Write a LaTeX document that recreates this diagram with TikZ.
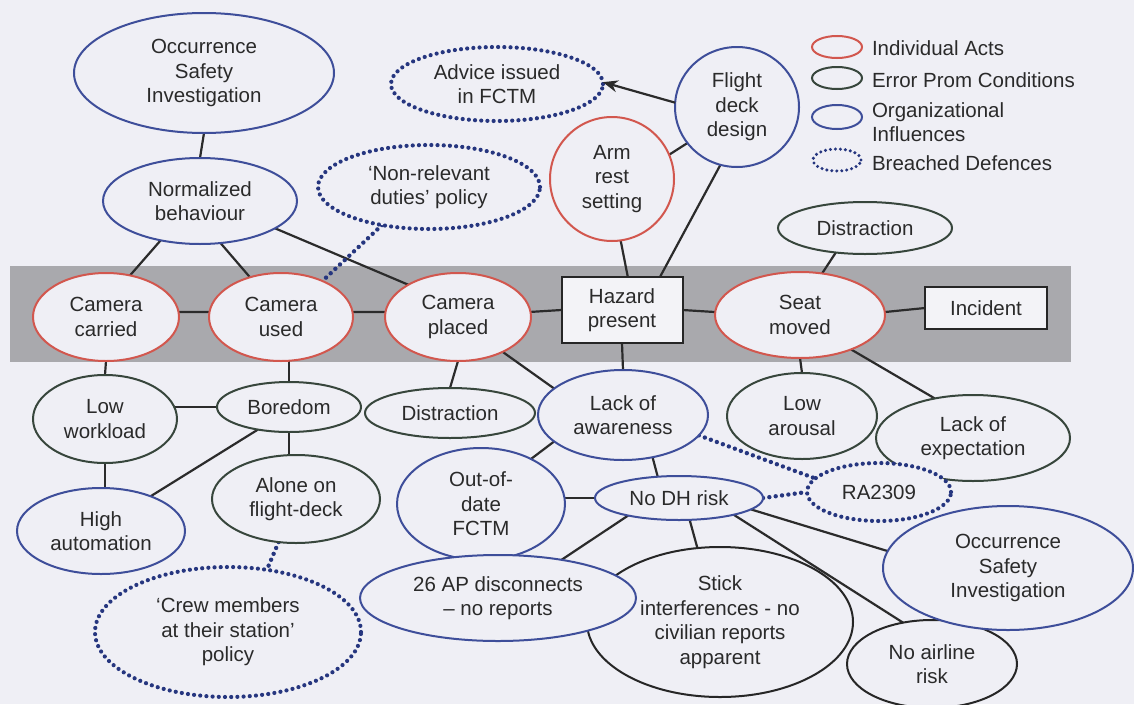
\documentclass[tikz,border=0pt]{standalone}
\usepackage{fontspec}
\setmainfont{Liberation Sans}
\usetikzlibrary{shapes.geometric,arrows.meta}
\definecolor{bgc}{HTML}{EFEFF5}
\definecolor{bandc}{HTML}{A9A9AD}
\definecolor{txt}{HTML}{2A2A2A}
\definecolor{redc}{HTML}{D2574E}
\definecolor{grnc}{HTML}{37463C}
\definecolor{bluc}{HTML}{3E4E9A}
\definecolor{dotc}{HTML}{26367F}
\definecolor{blkc}{HTML}{262626}
\definecolor{lnc}{HTML}{2B2B2B}
\definecolor{boxc}{HTML}{F3F3F7}
\pgfdeclarelayer{bandlayer}
\pgfdeclarelayer{edgelayer}
\pgfsetlayers{bandlayer,edgelayer,main}
\begin{document}
\begin{tikzpicture}[x=1pt,y=-1pt,
  every node/.style={font=\fontsize{20.5}{24.5}\selectfont, text=txt, align=center, inner sep=0pt, outer sep=0pt},
  sz/.style 2 args={ellipse, minimum width=#1, minimum height=#2, fill=bgc, line width=2pt},
  bx/.style 2 args={rectangle, minimum width=#1, minimum height=#2, fill=boxc, draw=blkc, line width=2pt},
  ia/.style={draw=redc},
  epc/.style={draw=grnc},
  oi/.style={draw=bluc},
  blk/.style={draw=blkc},
  bd/.style={draw=dotc, line width=4.2pt, dash pattern=on 0pt off 6.2pt, line cap=round},
  conn/.style={draw=lnc, line width=2.2pt},
  dotl/.style={draw=dotc, line width=4.4pt, dash pattern=on 0pt off 6.4pt, line cap=round}
]
\useasboundingbox (0,0) rectangle (1134,704);
\begin{pgfonlayer}{bandlayer}
\fill[bgc] (0,0) rectangle (1134,704);
\fill[bandc] (10,266) rectangle (1071,362);
\end{pgfonlayer}

% top area
\node[sz={260pt}{120pt}, oi] (osi1) at (204,73) {Occurrence\\Safety\\Investigation};
\node[sz={194pt}{86pt}, oi] (nb) at (200,201) {Normalized\\behaviour};
\node[sz={222pt}{84pt}, bd] (nrp) at (429,187) {‘Non-relevant\\duties’ policy};
\node[sz={212pt}{74pt}, bd] (adv) at (497,84) {Advice issued\\in FCTM};
\node[sz={124pt}{120pt}, oi] (fdd) at (737,107) {Flight\\deck\\design};
\node[sz={124pt}{124pt}, ia] (ars) at (612,179) {Arm\\rest\\setting};
\node[sz={174pt}{52pt}, epc] (dis1) at (865,228) {Distraction};

% band
\node[sz={146pt}{88pt}, ia] (cc) at (106,317) {Camera\\carried};
\node[sz={144pt}{88pt}, ia] (cu) at (281,317) {Camera\\used};
\node[sz={146pt}{88pt}, ia] (cp) at (458,317) {Camera\\placed};
\node[bx={121pt}{66pt}] (hp) at (622,310) {Hazard\\present};
\node[sz={170pt}{86pt}, ia] (sm) at (800,315) {Seat\\moved};
\node[bx={122pt}{42pt}] (inc) at (986,308) {Incident};

% below band
\node[sz={144pt}{88pt}, epc] (lw) at (105,419) {Low\\workload};
\node[sz={144pt}{50pt}, epc] (bor) at (289,407) {Boredom};
\node[sz={170pt}{50pt}, epc] (dis2) at (450,413) {Distraction};
\node[sz={170pt}{90pt}, oi] (loa) at (623,415) {Lack of\\awareness};
\node[sz={150pt}{86pt}, epc] (la) at (802,416) {Low\\arousal};
\node[sz={194pt}{86pt}, epc] (lex) at (973,438) {Lack of\\expectation};
\node[sz={168pt}{86pt}, oi] (ha) at (101,531) {High\\automation};
\node[sz={168pt}{88pt}, epc] (alone) at (296,499) {Alone on\\flight-deck};
\node[sz={266pt}{130pt}, bd] (crew) at (228,632) {‘Crew members\\at their station’\\policy};
\node[sz={266pt}{150pt}, blk] (stick) at (720,622) {Stick\\interferences - no\\civilian reports\\apparent};
\node[sz={168pt}{112pt}, oi] (ood) at (481,504) {Out-of-\\date\\FCTM};
\node[sz={276pt}{86pt}, oi] (ap) at (498,598) {26 AP disconnects\\– no reports};
\node[sz={168pt}{44pt}, oi] (ndh) at (679,498) {No DH risk};
\node[sz={144pt}{58pt}, bd] (ra) at (879,492) {RA2309};
\node[sz={170pt}{88pt}, blk] (nar) at (932,664) {No airline\\risk};
\node[sz={250pt}{124pt}, oi] (osi2) at (1008,568) {Occurrence\\Safety\\Investigation};

% legend
\node[sz={50pt}{22pt}, ia] (l1) at (837,47) {};
\node[anchor=west] (t1) at (872,48) {Individual Acts};
\node[sz={50pt}{22pt}, epc] (l2) at (837,78) {};
\node[anchor=west] (t2) at (872,80) {Error Prom Conditions};
\node[sz={50pt}{24pt}, oi] (l3) at (837,117) {};
\node[anchor=west, align=left] (t3) at (872,122) {Organizational\\Influences};
\node[sz={48pt}{22pt}, draw=dotc, line width=3.4pt, dash pattern=on 0pt off 5pt, line cap=round] (l4) at (837,160) {};
\node[anchor=west] (t4) at (872,163) {Breached Defences};

\draw[conn, -{Stealth[length=15pt,width=12pt]}] (fdd.176) -- (adv.1);

\begin{pgfonlayer}{edgelayer}
\draw[conn] (osi1.south) -- (nb.north);
\draw[conn] (nb.225) -- (cc.60);
\draw[conn] (nb.296) -- (cu.128);
\draw[conn] (nb.340) -- (cp.147);
\draw[dotl] (nrp.219) -- (cu.41);
\draw[conn] (ars.23) -- (fdd.216);
\draw[conn] (fdd.254) -- (hp.41);
\draw[conn] (ars.278) -- (hp.80);
\draw[conn] (cc.4) -- (cu.176);
\draw[conn] (cu.4) -- (cp.176);
\draw[conn] (cp.4) -- (hp.west);
\draw[conn] (hp.east) -- (sm.178);
\draw[conn] (sm.2) -- (inc.west);
\draw[conn] (dis1.220) -- (sm.62);
\draw[conn] (cc.south) -- (lw.north);
\draw[conn] (bor.north) -- (bor.north |- cu.center);
\draw[conn] (bor.west) -- (lw.center |- bor.west);
\draw[conn] (lw.center) -- (lw.center |- ha.center);
\draw[conn] (bor.216) -- (ha.35);
\draw[conn] (bor.center) -- (bor.center |- alone.center);
\draw[dotl] (alone.248) -- (crew.58);
\draw[conn] (cp.south) -- (dis2.north);
\draw[conn] (cp.322) -- (loa.159);
\draw[conn] (hp.south) -- (loa.north);
\draw[conn] (sm.south) -- (la.north);
\draw[conn] (sm.326) -- (lex.134);
\draw[conn] (loa.201) -- (ood.42);
\draw[conn] (loa.305) -- (ndh.135);
\draw[dotl] (loa.345) -- (ra.168);
\draw[dotl] (ndh.east) -- (ra.west);
\draw[conn] (ndh.west) -- (ood.center |- ndh.west);
\draw[conn] (ndh.199) -- (ap.31);
\draw[conn] (ndh.296) -- (stick.107);
\draw[conn] (ndh.351) -- (osi2.172);
\draw[conn] (ndh.343) -- (nar.125);
\end{pgfonlayer}
\end{tikzpicture}
\end{document}
